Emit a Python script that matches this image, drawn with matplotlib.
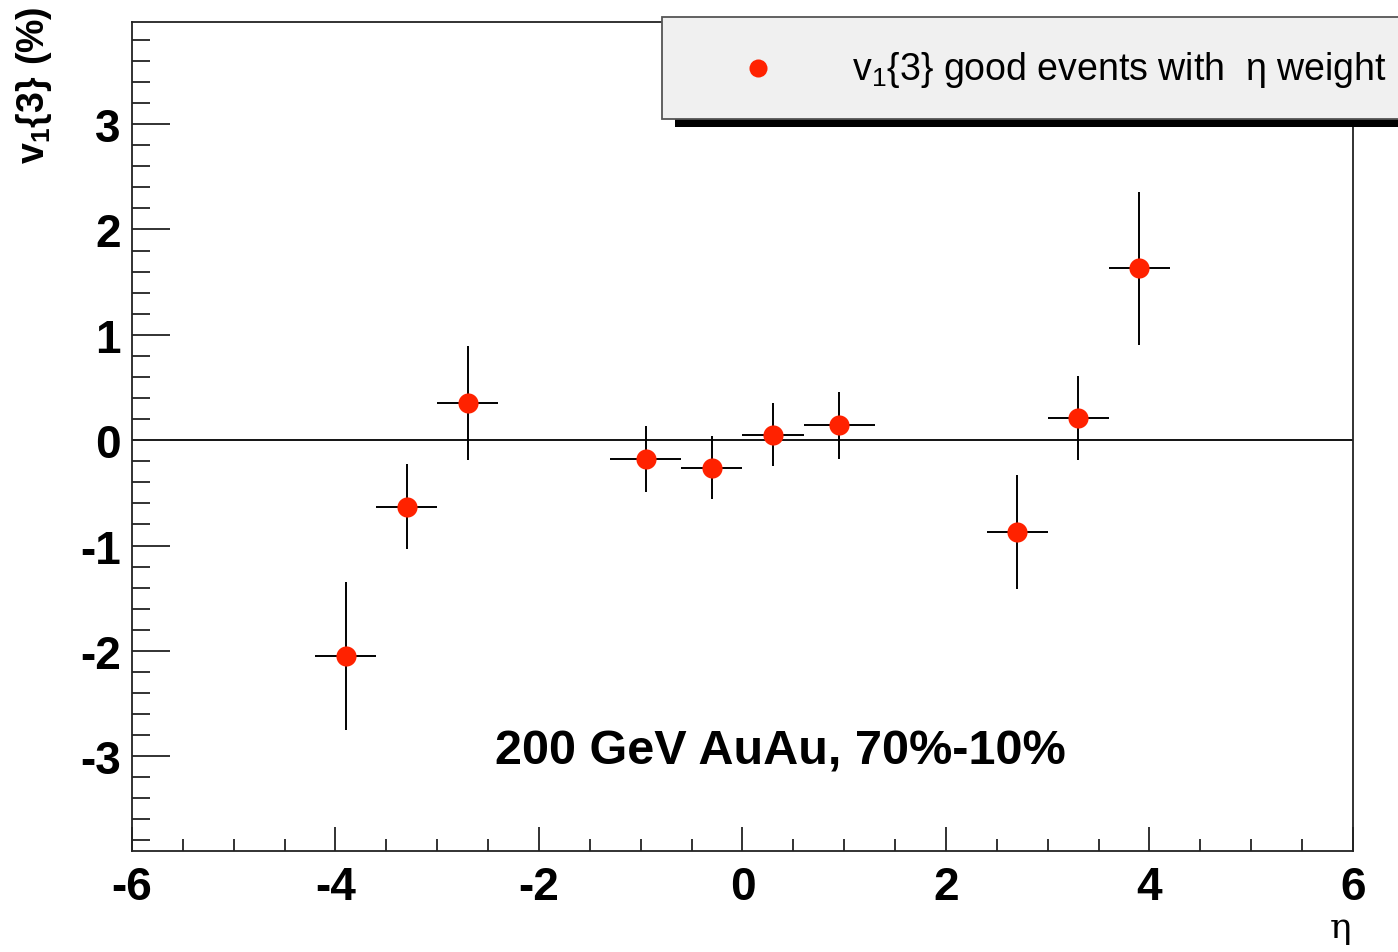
import numpy as np
import matplotlib
matplotlib.use("Agg")
import matplotlib.pyplot as plt
from matplotlib.patches import Rectangle
from matplotlib.ticker import MultipleLocator

plt.rcParams['font.family'] = ['Liberation Sans', 'DejaVu Sans']
plt.rcParams['mathtext.fontset'] = 'custom'
plt.rcParams['mathtext.rm'] = 'Liberation Sans'
plt.rcParams['mathtext.bf'] = 'Liberation Sans:bold'
plt.rcParams['axes.unicode_minus'] = False

# v1{3} vs eta
eta = [-3.9, -3.3, -2.7, -0.95, -0.3, 0.3, 0.95, 2.7, 3.3, 3.9]
eta_err = [0.3, 0.3, 0.3, 0.35, 0.3, 0.3, 0.35, 0.3, 0.3, 0.3]
v1 = [-2.05, -0.63, 0.35, -0.18, -0.26, 0.05, 0.14, -0.87, 0.21, 1.63]
v1_err = [0.70, 0.40, 0.54, 0.31, 0.30, 0.30, 0.32, 0.54, 0.40, 0.73]

fig = plt.figure(figsize=(13.98, 9.53), dpi=100)
ax = fig.add_axes([0.0944, 0.106, 0.8734, 0.8699])

ax.axhline(0, color='black', lw=1.3, zorder=1)
ax.errorbar(eta, v1, xerr=eta_err, yerr=v1_err, fmt='o', color='#ff2200',
            ecolor='black', elinewidth=1.4, capsize=0, markersize=14.5,
            markeredgewidth=0, zorder=3)

ax.set_xlim(-6, 6)
ax.set_ylim(-3.9, 3.97)
ax.xaxis.set_major_locator(MultipleLocator(2))
ax.xaxis.set_minor_locator(MultipleLocator(0.5))
ax.yaxis.set_major_locator(MultipleLocator(1))
ax.yaxis.set_minor_locator(MultipleLocator(0.2))
ax.tick_params(which='both', direction='in', top=False, right=False, width=1.3, color='#222222')
ax.tick_params(axis='both', which='major', labelsize=33)
ax.tick_params(axis='x', which='major', length=17, pad=10)
ax.tick_params(axis='x', which='minor', length=9)
ax.tick_params(axis='y', which='major', length=27, pad=8)
ax.tick_params(axis='y', which='minor', length=13)
for lab in ax.get_xticklabels() + ax.get_yticklabels():
    lab.set_fontweight('bold')
for sp in ax.spines.values():
    sp.set_linewidth(1.3)
    sp.set_color('#222222')

ax.set_ylabel(r'$\mathbf{v_1\{3\}\ (\%)}$', fontsize=27, labelpad=0)
ax.yaxis.set_label_coords(-0.064, 0.925)
fig.text(0.959, 0.016, 'η', fontsize=26, family='DejaVu Serif', ha='center', va='baseline')

ax.text(0.37, -2.95, '200 GeV AuAu, 70%-10%', fontsize=35, fontweight='bold',
        ha='center', va='center')

# legend box (ROOT style with shadow)
W, H = 1398.0, 953.0
fig.patches.append(Rectangle((675 / W, 1 - 128 / H), 1.0, 9 / H, transform=fig.transFigure,
                             facecolor='black', edgecolor='none', zorder=5))
fig.patches.append(Rectangle((662 / W, 1 - 120 / H), 1.0, 102 / H, transform=fig.transFigure,
                             facecolor='#f0f0f0', edgecolor='#555555', lw=1.3, zorder=6))
fig.lines.append(plt.Line2D([758 / W], [1 - 69 / H], transform=fig.transFigure, marker='o',
                            color='#ff2200', markersize=13, markeredgewidth=0, zorder=7))
fig.text(852 / W, 1 - 70 / H, r'$\mathrm{v_1\{3\}}$ good events with  η weight',
         fontsize=27, ha='left', va='center', zorder=7)

fig.savefig('out.png', dpi=100)
